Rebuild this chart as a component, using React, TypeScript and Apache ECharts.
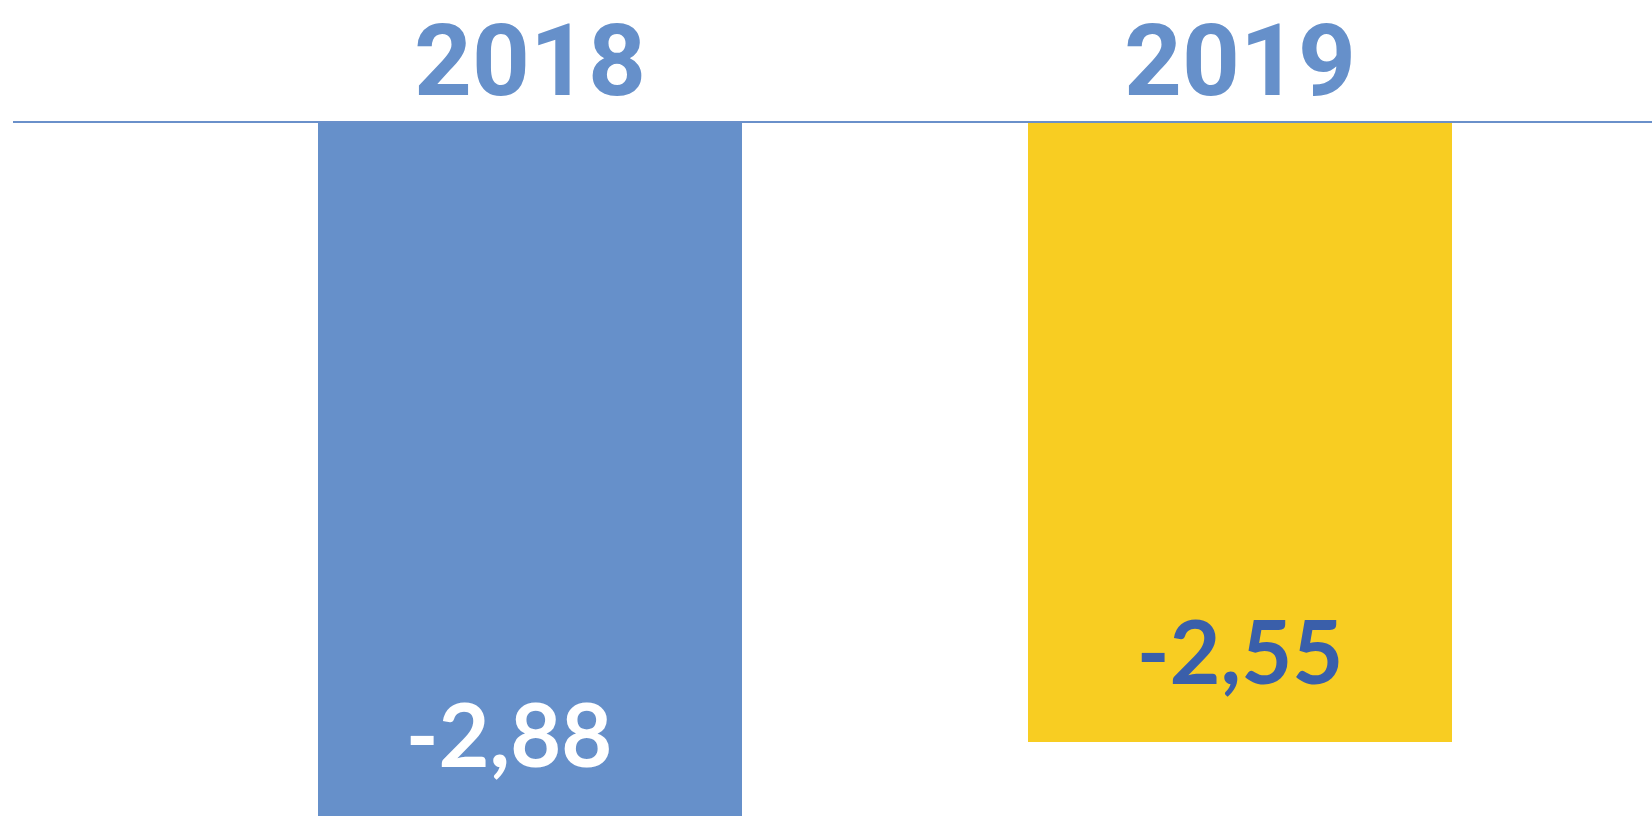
import React, { useEffect, useRef } from "react";
import * as echarts from "echarts";

const categories: string[] = ["2018", "2019"];
const values: number[] = [-2.88, -2.55];
const barColors: string[] = ["#6690CA", "#F8CD22"];
const labelColors: string[] = ["#FFFFFF", "#3A5FAA"];
const labelOffsets: number[][] = [[-21, 3], [0, 0]];

export default function App() {
  const ref = useRef<HTMLDivElement>(null);
  useEffect(() => {
    if (!ref.current) return;
    const chart = echarts.init(ref.current, undefined, { renderer: "svg" });
    const gridTop = 122;
    const pxPerUnit = 620 / 2.55;
    const yMin = -2.8;
    chart.setOption({
      animation: false,
      backgroundColor: "#FFFFFF",
      grid: { left: 175, width: 1420, top: gridTop, height: -yMin * pxPerUnit },
      xAxis: {
        type: "category",
        position: "top",
        data: categories,
        axisLine: { show: false },
        axisTick: { show: false },
        axisLabel: {
          margin: 22,
          fontSize: 101,
          lineHeight: 80,
          fontWeight: "bold",
          fontFamily: "Roboto",
          color: "#6690CA",
        },
      },
      yAxis: {
        type: "value",
        min: yMin,
        max: 0,
        show: false,
        splitLine: { show: false },
      },
      graphic: [
        {
          type: "line",
          shape: { x1: 13, y1: gridTop, x2: 1652, y2: gridTop },
          style: { stroke: "#6A90CA", lineWidth: 2 },
          z: 100,
        },
      ],
      series: [
        {
          type: "bar",
          barWidth: 424,
          clip: false,
          data: values.map((v, i) => ({
            value: v,
            itemStyle: { color: barColors[i] },
            label: { color: labelColors[i], offset: labelOffsets[i] },
          })),
          label: {
            show: true,
            position: "insideBottom",
            distance: 48,
            fontSize: 88,
            lineHeight: 88,
            fontWeight: "bold",
            fontFamily: "Lato",
            formatter: (p: any) => p.value.toFixed(2).replace(".", ","),
          },
        },
      ],
    });
    return () => chart.dispose();
  }, []);
  return (
    <div
      ref={ref}
      style={{ position: "fixed", left: 0, top: 0, width: 1652, height: 816 }}
    />
  );
}
